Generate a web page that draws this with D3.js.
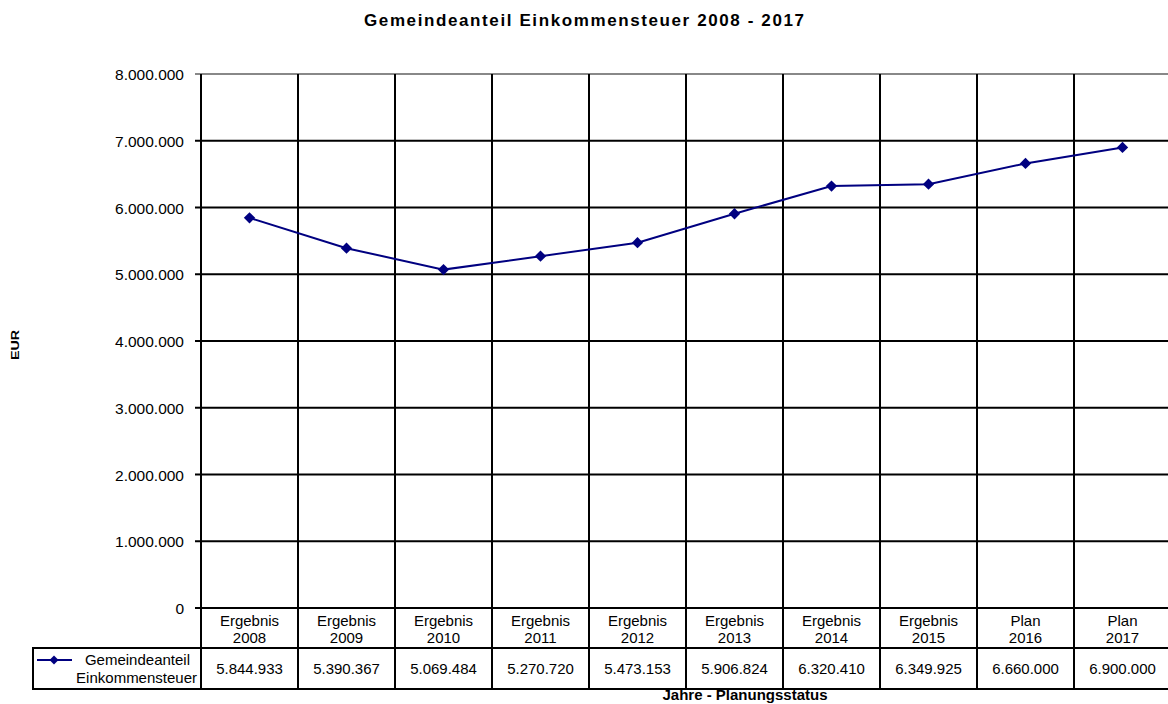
<!DOCTYPE html>
<html>
<head>
<meta charset="utf-8">
<script src="https://cdn.jsdelivr.net/npm/d3@7"></script>
<style>
  body { margin: 0; background: #fff; }
  svg { display: block; font-family: "Liberation Sans", Arial, sans-serif; }
</style>
</head>
<body>
<div id="chart"></div>
<script>
const status = ["Ergebnis", "Ergebnis", "Ergebnis", "Ergebnis", "Ergebnis", "Ergebnis", "Ergebnis", "Ergebnis", "Plan", "Plan"];
const years = ["2008", "2009", "2010", "2011", "2012", "2013", "2014", "2015", "2016", "2017"];
const values = [5844933, 5390367, 5069484, 5270720, 5473153, 5906824, 6320410, 6349925, 6660000, 6900000];
const yTicks = [0, 1000000, 2000000, 3000000, 4000000, 5000000, 6000000, 7000000, 8000000];
const seriesName = ["Gemeindeanteil", "Einkommensteuer"];

const W = 1168, H = 704;
const plot = { left: 201, top: 74, right: 1171, bottom: 608 };
const navy = "#000080";

const svg = d3.select("#chart").append("svg")
    .attr("width", W)
    .attr("height", H);

const fmt = d => d.toLocaleString("de-DE");

const x = d3.scaleBand()
    .domain(years)
    .range([plot.left, plot.right]);

const y = d3.scaleLinear()
    .domain([0, 8000000])
    .range([plot.bottom, plot.top]);

// title
svg.append("text")
    .attr("x", 584)
    .attr("y", 26)
    .attr("text-anchor", "middle")
    .attr("font-size", "17px")
    .attr("font-weight", "bold")
    .attr("textLength", 440)
    .attr("lengthAdjust", "spacing")
    .text("Gemeindeanteil Einkommensteuer 2008 - 2017");

// y title
svg.append("text")
    .attr("transform", "translate(19,345) rotate(-90)")
    .attr("text-anchor", "middle")
    .attr("font-size", "11px")
    .attr("font-weight", "bold")
    .attr("textLength", 30)
    .attr("lengthAdjust", "spacingAndGlyphs")
    .text("EUR");

// horizontal gridlines
svg.selectAll(".hgrid")
    .data(yTicks)
    .enter().append("line")
    .attr("x1", plot.left - 6)
    .attr("x2", plot.right)
    .attr("y1", d => y(d))
    .attr("y2", d => y(d))
    .attr("stroke", d => d === 8000000 ? "#888" : "#000")
    .attr("stroke-width", 2);

// y tick labels
svg.selectAll(".ylab")
    .data(yTicks)
    .enter().append("text")
    .attr("x", 184)
    .attr("y", d => y(d) + 6)
    .attr("text-anchor", "end")
    .attr("font-size", "15.5px")
    .text(d => fmt(d));

// vertical lines (grid + table columns)
const vx = years.map(d => x(d)).concat([plot.right]);
svg.selectAll(".vgrid")
    .data(vx)
    .enter().append("line")
    .attr("x1", d => d)
    .attr("x2", d => d)
    .attr("y1", plot.top)
    .attr("y2", 689)
    .attr("stroke", "#000")
    .attr("stroke-width", 2);

// category labels
const cat = svg.selectAll(".cat")
    .data(years)
    .enter().append("text")
    .attr("text-anchor", "middle")
    .attr("font-size", "15px");
cat.append("tspan")
    .attr("x", d => x(d) + x.bandwidth() / 2)
    .attr("y", 626)
    .text((d, i) => status[i]);
cat.append("tspan")
    .attr("x", d => x(d) + x.bandwidth() / 2)
    .attr("y", 643)
    .text(d => d);

// data table
const tblLeft = 33;
svg.append("rect")
    .attr("x", tblLeft)
    .attr("y", 648)
    .attr("width", plot.right - tblLeft)
    .attr("height", 41)
    .attr("fill", "none")
    .attr("stroke", "#000")
    .attr("stroke-width", 2);

svg.selectAll(".val")
    .data(values)
    .enter().append("text")
    .attr("x", (d, i) => x(years[i]) + x.bandwidth() / 2)
    .attr("y", 674)
    .attr("text-anchor", "middle")
    .attr("font-size", "15px")
    .text(d => fmt(d));

// legend in table
svg.append("line")
    .attr("x1", 37).attr("x2", 72)
    .attr("y1", 660).attr("y2", 660)
    .attr("stroke", navy)
    .attr("stroke-width", 2);
svg.append("path")
    .attr("d", d3.symbol(d3.symbolSquare, 40)())
    .attr("transform", "translate(54,660) rotate(45)")
    .attr("fill", navy);
svg.append("text")
    .attr("x", 190)
    .attr("y", 665)
    .attr("text-anchor", "end")
    .attr("font-size", "15px")
    .text(seriesName[0]);
svg.append("text")
    .attr("x", 197)
    .attr("y", 683)
    .attr("text-anchor", "end")
    .attr("font-size", "15px")
    .text(seriesName[1]);

// x title
svg.append("text")
    .attr("x", 745)
    .attr("y", 700)
    .attr("text-anchor", "middle")
    .attr("font-size", "15px")
    .attr("font-weight", "bold")
    .text("Jahre - Planungsstatus");

// series line
const line = d3.line()
    .x((d, i) => x(years[i]) + x.bandwidth() / 2)
    .y(d => y(d));

svg.append("path")
    .datum(values)
    .attr("fill", "none")
    .attr("stroke", navy)
    .attr("stroke-width", 2)
    .attr("d", line);

svg.selectAll(".pt")
    .data(values)
    .enter().append("path")
    .attr("d", d3.symbol(d3.symbolSquare, 64)())
    .attr("transform", (d, i) => `translate(${x(years[i]) + x.bandwidth() / 2},${y(d)}) rotate(45)`)
    .attr("fill", navy);
</script>
</body>
</html>
